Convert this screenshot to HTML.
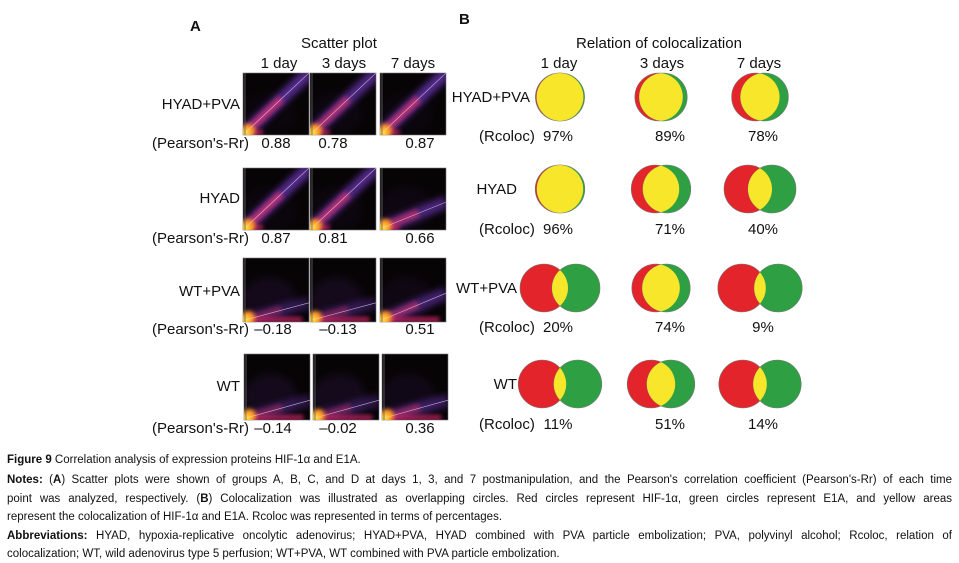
<!DOCTYPE html>
<html><head><meta charset="utf-8">
<style>
body{margin:0;width:959px;height:563px;background:#fff;position:relative;overflow:hidden;font-family:"Liberation Sans",Arial,sans-serif;color:#111}
.t{position:absolute;white-space:nowrap;font-size:15px;line-height:1}
.cap{position:absolute;left:7px;width:945px;font-size:11.5px;line-height:1;white-space:nowrap;text-align:justify;text-align-last:justify;color:#111}
.cap.last{text-align-last:left}
</style></head>
<body>
<svg id="fig" width="959" height="450" style="position:absolute;left:0;top:0">
<defs>
<filter id="bl" x="-50%" y="-50%" width="200%" height="200%"><feGaussianBlur stdDeviation="3.5"/></filter>
<filter id="bl2" x="-50%" y="-50%" width="200%" height="200%"><feGaussianBlur stdDeviation="2"/></filter>
</defs>
</svg>

<div class="t" style="left:190px;top:19px;font-weight:bold;font-size:15px">A</div>
<div class="t" style="left:459px;top:12px;font-weight:bold;font-size:15px">B</div>
<div class="t" style="left:301px;top:36px">Scatter plot</div>
<div class="t" style="left:576px;top:36px">Relation of colocalization</div>

<div class="cap last" style="top:455px"><b>Figure 9</b> Correlation analysis of expression proteins HIF-1α and E1A.</div>
<div class="cap" style="top:475px"><b>Notes:</b> (<b>A</b>) Scatter plots were shown of groups A, B, C, and D at days 1, 3, and 7 postmanipulation, and the Pearson's correlation coefficient (Pearson's-Rr) of each time</div>
<div class="cap" style="top:494px">point was analyzed, respectively. (<b>B</b>) Colocalization was illustrated as overlapping circles. Red circles represent HIF-1α, green circles represent E1A, and yellow areas</div>
<div class="cap last" style="top:512px">represent the colocalization of HIF-1α and E1A. Rcoloc was represented in terms of percentages.</div>
<div class="cap" style="top:531px"><b>Abbreviations:</b> HYAD, hypoxia-replicative oncolytic adenovirus; HYAD+PVA, HYAD combined with PVA particle embolization; PVA, polyvinyl alcohol; Rcoloc, relation of</div>
<div class="cap last" style="top:549px">colocalization; WT, wild adenovirus type 5 perfusion; WT+PVA, WT combined with PVA particle embolization.</div>

<script>
const groups = ["HYAD+PVA","HYAD","WT+PVA","WT"];
const days = ["1 day","3 days","7 days"];
const pearson = [[0.88,0.78,0.87],[0.87,0.81,0.66],[-0.18,-0.13,0.51],[-0.14,-0.02,0.36]];
const pearsonLabels = [["0.88","0.78","0.87"],["0.87","0.81","0.66"],["\u20130.18","\u20130.13","0.51"],["\u20130.14","\u20130.02","0.36"]];
const rcoloc = [[97,89,78],[96,71,40],[20,74,9],[11,51,14]];

const NS="http://www.w3.org/2000/svg";
const svg=document.getElementById('fig');
function mk(tag,attrs,parent){const e=document.createElementNS(NS,tag);for(const k in attrs)e.setAttribute(k,attrs[k]);(parent||svg).appendChild(e);return e;}
function txt(x,y,s,anchor,name){const d=document.createElement('div');d.className='t';d.textContent=s;d.style.top=(y-8)+'px';
 if(anchor==='end'){d.style.right=(959-x)+'px';}else if(anchor==='middle'){d.style.left=x+'px';d.style.transform='translateX(-50%)';}else d.style.left=x+'px';
 
 
 document.body.appendChild(d);return d;}

const scRowTop=[73,168,258,354], scRowH=[62,62,64,66];
const scColX=[[243,310,380],[243,310,380],[243,310,380],[244,313,382]], scW=66;
const scLabelY=[105,199,292,387], pearY=[144,239,330,429];
const pearX=[[276,333,420],[276,333,420],[273,338,420],[273,338,420]];
const vRowY=[97,189,288,384], vColX=[560,661,760], vR=24;
const rcY=[137,230,328,425], rcX=[[558,670,763],[558,670,763],[558,670,763],[558,670,763]];

txt(279,64,days[0],'middle','scatter-day-header');
txt(344,64,days[1],'middle','scatter-day-header');
txt(413,64,days[2],'middle','scatter-day-header');
txt(559,64,days[0],'middle','venn-day-header');
txt(662,64,days[1],'middle','venn-day-header');
txt(759,64,days[2],'middle','venn-day-header');

groups.forEach((g,i)=>{
  txt(240,scLabelY[i],g,'end','scatter-group-label');
  txt(152,pearY[i],"(Pearson's-Rr)",'start','pearson-label');
  txt(530-(i>0?13:0),vRowY[i]+1,g,'end','venn-group-label');
  txt(479,rcY[i],"(Rcoloc)",'start','rcoloc-label');
  days.forEach((d,j)=>{
    const x0=scColX[i][j], y0=scRowTop[i], h=scRowH[i], r=pearson[i][j];
    const gEl=mk('g',{});
    
    
    mk('rect',{x:x0,y:y0,width:scW,height:h,fill:'#070406',stroke:'#777','stroke-width':0.6},gEl);
    const cl=mk('clipPath',{id:'c'+i+j},gEl);mk('rect',{x:x0,y:y0,width:scW,height:h},cl);
    const inner=mk('g',{'clip-path':'url(#c'+i+j+')'},gEl);
    const strength=Math.max(0.15,Math.abs(r));
    const slope=r>0.7?1:(r>0.4?0.45:0.3);
    const ex=x0+scW, ey=y0+h-scW*slope*(h/scW);
    mk('ellipse',{cx:x0+scW*0.4,cy:y0+h*0.65,rx:scW*0.4,ry:h*0.35,fill:'#5a2a8a',opacity:0.15*(1.2-strength),filter:'url(#bl)'},inner);
    mk('line',{x1:x0+2,y1:y0+h-2,x2:ex,y2:ey,stroke:'#7a3cd0','stroke-width':12,opacity:0.25+0.5*strength,filter:'url(#bl)'},inner);
    mk('line',{x1:x0+2,y1:y0+h-2,x2:x0+2+(ex-x0)*0.55,y2:y0+h-2+(ey-y0-h)*0.55,stroke:'#d8306a','stroke-width':8,opacity:0.5*strength+0.3,filter:'url(#bl2)'},inner);
    mk('rect',{x:x0,y:y0+h-5,width:scW*(r<0.6?0.9:0.3),height:5,fill:'#d02868',opacity:0.8,filter:'url(#bl2)'},inner);
    mk('circle',{cx:x0+5,cy:y0+h-4,r:7,fill:'#ff9a20',filter:'url(#bl2)'},inner);
    mk('circle',{cx:x0+3,cy:y0+h-2,r:4,fill:'#ffe040',filter:'url(#bl2)'},inner);
    mk('line',{x1:x0+2,y1:y0+h-2,x2:ex,y2:ey,stroke:'#ddd','stroke-width':0.6,opacity:0.8},inner);
    mk('line',{x1:x0+2,y1:y0,x2:x0+2,y2:y0+h,stroke:'#666','stroke-width':0.8},inner);
    txt(pearX[i][j],pearY[i],pearsonLabels[i][j],'middle','pearson-value');
    const p=rcoloc[i][j]/100, dsep=40*(1-p);
    const cx=vColX[j], cy=vRowY[i], cR=cx-dsep/2, cG=cx+dsep/2;
    const vg=mk('g',{});
    
    
    mk('circle',{cx:cR,cy:cy,r:vR,fill:'#e3242b',stroke:'#777','stroke-width':0.6},vg);
    mk('circle',{cx:cG,cy:cy,r:vR,fill:'#2ea043',stroke:'#777','stroke-width':0.6},vg);
    const vc=mk('clipPath',{id:'v'+i+j},vg);mk('circle',{cx:cR,cy:cy,r:vR},vc);
    mk('circle',{cx:cG,cy:cy,r:vR,fill:'#f7e62a','clip-path':'url(#v'+i+j+')'},vg);
    txt(rcX[i][j],rcY[i],rcoloc[i][j]+'%','middle','rcoloc-value');
  });
});
</script>
</body></html>
